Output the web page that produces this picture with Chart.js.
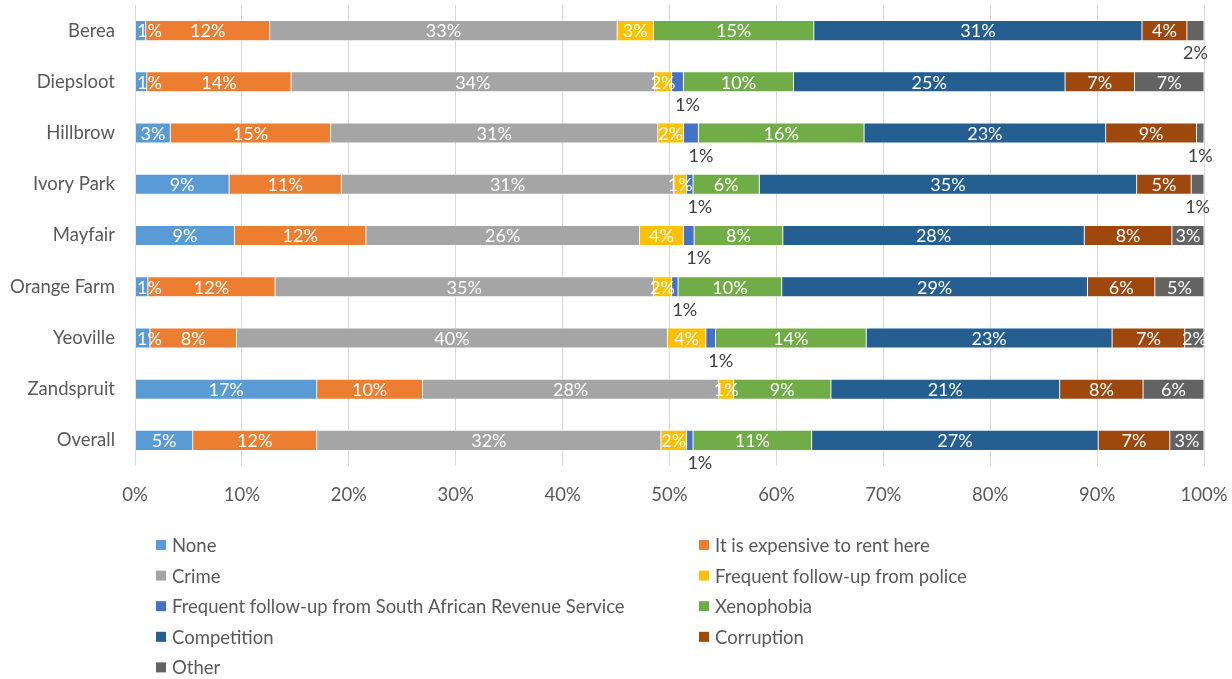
<!DOCTYPE html>
<html>
<head>
<meta charset="utf-8">
<script src="https://cdn.jsdelivr.net/npm/chart.js@4.4.1/dist/chart.umd.min.js"></script>
<style>
  html, body { margin: 0; padding: 0; background: #fff; }
  #wrap { width: 1232px; height: 679px; position: relative; }
</style>
</head>
<body>
<div id="wrap"><canvas id="c" width="1232" height="679"></canvas></div>
<script>
// Reasons given for where businesses are located, share of responses (%) per area
const categories = ['Berea', 'Diepsloot', 'Hillbrow', 'Ivory Park', 'Mayfair', 'Orange Farm', 'Yeoville', 'Zandspruit', 'Overall'];
const seriesNames = [
  'None',
  'It is expensive to rent here',
  'Crime',
  'Frequent follow-up from police',
  'Frequent follow-up from South African Revenue Service',
  'Xenophobia',
  'Competition',
  'Corruption',
  'Other'
];
const none        = [1.0, 1.1, 3.3, 8.8, 9.3, 1.2, 1.4, 17.0, 5.4];
const expensive   = [11.6, 13.5, 15.0, 10.5, 12.3, 11.9, 8.1, 9.9, 11.6];
const crime       = [32.5, 34.0, 30.6, 31.1, 25.6, 35.4, 40.3, 27.7, 32.2];
const police      = [3.4, 1.6, 2.4, 1.2, 4.1, 1.7, 3.6, 1.4, 2.4];
const sars        = [0, 1.1, 1.4, 0.6, 1.0, 0.6, 0.9, 0, 0.6];
const xenophobia  = [15.0, 10.3, 15.5, 6.2, 8.3, 9.7, 14.1, 9.1, 11.1];
const competition = [30.7, 25.4, 22.6, 35.3, 28.2, 28.6, 23.0, 21.4, 26.8];
const corruption  = [4.2, 6.5, 8.5, 5.1, 8.2, 6.3, 6.8, 7.8, 6.7];
const other       = [1.6, 6.5, 0.7, 1.2, 3.0, 4.6, 1.8, 5.7, 3.2];
const xTicks = [0, 10, 20, 30, 40, 50, 60, 70, 80, 90, 100];

const seriesValues = [none, expensive, crime, police, sars, xenophobia, competition, corruption, other];
const seriesColors = ['#5B9BD5', '#ED7D31', '#A5A5A5', '#FFC000', '#4472C4', '#70AD47', '#255E91', '#9E480E', '#636363'];

const FONT = 'Lato, "Open Sans", sans-serif';
const TEXT = '#595959';
const AXIS_SIZE = 18.5;
const LABEL_SIZE = 18;

// Segment labels: white inside the bar; tiny SARS / Other segments get a grey label under the bar
const segmentLabels = {
  id: 'segmentLabels',
  afterDatasetsDraw(chart) {
    const ctx = chart.ctx;
    const area = chart.chartArea;
    ctx.save();
    ctx.font = LABEL_SIZE + 'px ' + FONT;
    ctx.textAlign = 'center';
    ctx.textBaseline = 'middle';
    chart.data.datasets.forEach((ds, di) => {
      const meta = chart.getDatasetMeta(di);
      meta.data.forEach((bar, i) => {
        const v = ds.data[i];
        if (!v) return;
        const txt = Math.round(v) + '%';
        const tw = ctx.measureText(txt).width;
        const left = Math.min(bar.x, bar.base);
        const w = Math.abs(bar.x - bar.base);
        let cx = left + w / 2;
        const below = di === 4 || (di === 8 && w < 18);
        if (below) {
          ctx.fillStyle = '#404040';
          ctx.fillText(txt, di === 4 ? cx + 10 : cx, bar.y + bar.height / 2 + 13);
        } else {
          cx = Math.max(cx, area.left + 2 + tw / 2);
          ctx.fillStyle = '#FFFFFF';
          ctx.fillText(txt, cx, bar.y + 1);
        }
      });
    });
    ctx.restore();
  }
};

// Two-column legend under the plot
const twoColLegend = {
  id: 'twoColLegend',
  afterDraw(chart) {
    const ctx = chart.ctx;
    ctx.save();
    ctx.font = AXIS_SIZE + 'px ' + FONT;
    ctx.textBaseline = 'middle';
    ctx.textAlign = 'left';
    const colX = [156, 699];
    const rowY0 = 545, rowStep = 30.6, box = 10;
    chart.data.datasets.forEach((ds, i) => {
      const x = colX[i % 2];
      const y = rowY0 + Math.floor(i / 2) * rowStep;
      ctx.fillStyle = ds.backgroundColor;
      ctx.fillRect(x, y - box / 2, box, box);
      ctx.fillStyle = TEXT;
      ctx.fillText(ds.label, x + 16, y + 1);
    });
    ctx.restore();
  }
};

new Chart(document.getElementById('c'), {
  type: 'bar',
  data: {
    labels: categories,
    datasets: seriesNames.map((name, i) => ({
      label: name,
      data: seriesValues[i],
      backgroundColor: seriesColors[i],
      borderColor: 'rgba(255,255,255,0.55)',
      borderWidth: 0.8,
      borderSkipped: false,
      barThickness: 20
    }))
  },
  options: {
    indexAxis: 'y',
    responsive: false,
    animation: false,
    layout: { padding: { left: 0, right: 28, top: 5, bottom: 163 } },
    plugins: {
      legend: { display: false },
      tooltip: { enabled: false }
    },
    scales: {
      x: {
        stacked: true,
        min: 0,
        max: 100,
        afterBuildTicks(scale) { scale.ticks = xTicks.map(v => ({ value: v })); },
        afterFit(scale) {
          scale.height = 50;
          scale.paddingLeft = 0;
          scale.paddingRight = 0;
        },
        grid: { color: '#D9D9D9', lineWidth: 1, drawTicks: false },
        border: { display: false },
        ticks: {
          padding: 18,
          color: TEXT,
          font: { family: FONT, size: AXIS_SIZE },
          callback: v => v + '%'
        }
      },
      y: {
        stacked: true,
        afterFit(scale) {
          scale.width = 135;
          scale.paddingTop = 0;
          scale.paddingBottom = 0;
        },
        grid: { display: false, drawTicks: false },
        border: { display: false },
        ticks: {
          padding: 20,
          color: TEXT,
          font: { family: FONT, size: AXIS_SIZE }
        }
      }
    }
  },
  plugins: [segmentLabels, twoColLegend]
});
</script>
</body>
</html>
